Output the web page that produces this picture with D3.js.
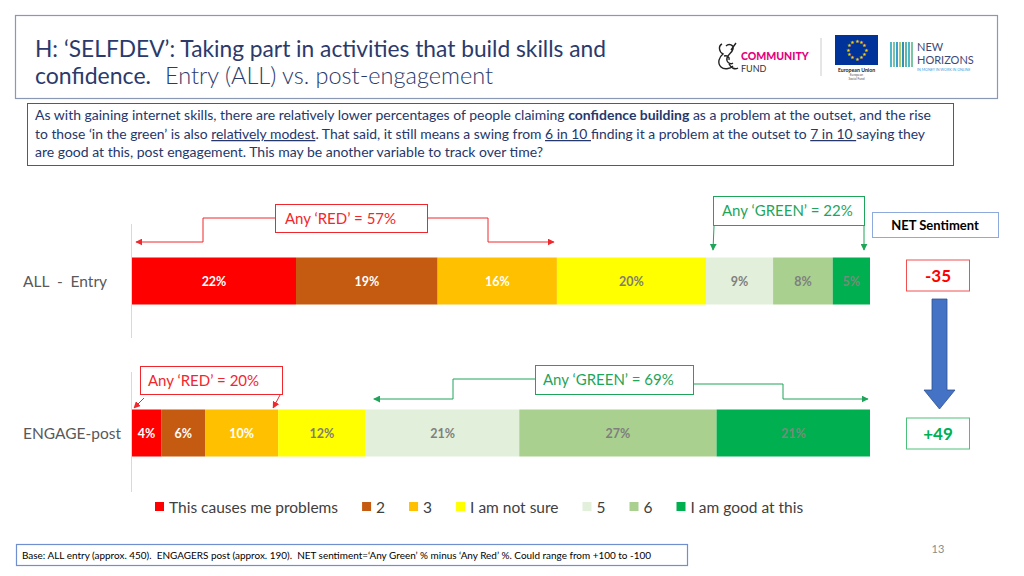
<!DOCTYPE html>
<html><head><meta charset="utf-8">
<script src="https://cdn.jsdelivr.net/npm/d3@7"></script>
<style>body{margin:0;background:#fff;} svg{display:block;font-family:Lato,"Open Sans",sans-serif;}</style>
</head><body><svg id="c" width="1024" height="576"></svg>
<script>
// ---------- DATA ----------
const rows = ["ALL  -  Entry", "ENGAGE-post"];
const seriesNames = ["This causes me problems","2","3","I am not sure","5","6","I am good at this"];
const seriesColors = ["#FF0000","#C55A11","#FFC000","#FFFF00","#E2EFDA","#A9D08E","#00B050"];
const labelColors = ["#FFFFFF","#FFFFFF","#FFFFFF","#7F7F6F","#7F7F7F","#7F7F7F","#6F8F7A"];
const entryValues = [22,19,16,20,9,8,5];
const postValues  = [4,6,10,12,21,27,21];
const anyRed   = [57,20];
const anyGreen = [22,69];
const netSentiment = [-35,49];
const pageNumber = "13";

// ---------- SETUP ----------
const svg = d3.select("#c");
const fitText = (sel, w) => sel.attr("textLength", w).attr("lengthAdjust", "spacingAndGlyphs");
const navy = "#2B3A6B";

const defs = svg.append("defs");
function marker(id, color){
  defs.append("marker").attr("id", id).attr("viewBox","0 0 10 10").attr("refX",9).attr("refY",5)
    .attr("markerWidth",7).attr("markerHeight",7).attr("markerUnits","userSpaceOnUse").attr("orient","auto")
    .append("path").attr("d","M0,0 L10,5 L0,10 z").attr("fill",color);
}
marker("mr","#F0282D"); marker("mg","#1FA55A");

// ---------- TITLE BOX ----------
svg.append("rect").attr("x",15.5).attr("y",15.5).attr("width",982).attr("height",83)
  .attr("fill","none").attr("stroke","#8A97B5").attr("stroke-width",1.2);
fitText(svg.append("text").attr("x",35).attr("y",57).attr("font-size",24).attr("fill",navy)
  .text("H: \u2018SELFDEV\u2019: Taking part in activities that build skills and"), 571);
fitText(svg.append("text").attr("x",35).attr("y",84).attr("font-size",24).attr("fill",navy)
  .text("confidence."), 116);
fitText(svg.append("text").attr("x",165).attr("y",84).attr("font-size",24).attr("font-weight",300).attr("fill",navy)
  .text("Entry (ALL) vs. post-engagement"), 328);

// logos
const lg = svg.append("g");
lg.append("path").attr("d","M722,44 c-4,2 -3,8 1,10 c-4,3 -6,9 -2,13 c3,3 9,2 12,-1 M726,46 c3,-3 8,-1 7,3 c-1,4 -5,5 -6,9 c-1,4 3,7 6,5 M724,56 c3,-1 6,1 5,4 M731,50 l5,-7 M729,64 c2,4 6,6 9,4")
  .attr("fill","none").attr("stroke","#222").attr("stroke-width",1.4);
lg.append("text").attr("x",741).attr("y",60).attr("font-size",10.5).attr("font-weight",900).attr("fill","#E5007E").text("COMMUNITY");
lg.append("text").attr("x",741).attr("y",71.5).attr("font-size",9).attr("fill","#333").text("FUND");
lg.append("line").attr("x1",821).attr("x2",821).attr("y1",38).attr("y2",76).attr("stroke","#ccc");
lg.append("rect").attr("x",835).attr("y",35).attr("width",43).attr("height",30).attr("fill","#003399");
d3.range(12).forEach(i=>{
  const a = i*Math.PI/6;
  lg.append("text").attr("x",856.5+9*Math.cos(a)).attr("y",50+9*Math.sin(a)+1.5).attr("font-size",5).attr("text-anchor","middle").attr("fill","#FFCC00").text("\u2605");
});
lg.append("text").attr("x",856.5).attr("y",71.5).attr("font-size",5.2).attr("font-weight",700).attr("text-anchor","middle").attr("fill","#222").text("European Union");
lg.append("text").attr("x",856.5).attr("y",76).attr("font-size",3.2).attr("text-anchor","middle").attr("fill","#555").text("European");
lg.append("text").attr("x",856.5).attr("y",80).attr("font-size",3.2).attr("text-anchor","middle").attr("fill","#555").text("Social Fund");
const stripeCols = ["#4FB8C9","#7CC5A0","#3B9FD0","#A6D16E","#2E8FB8","#62B9A8"];
d3.range(8).forEach(i=>{
  lg.append("rect").attr("x",890+i*3).attr("y",42).attr("width",2).attr("height",25).attr("fill",stripeCols[i%6]);
});
lg.append("text").attr("x",917).attr("y",50.5).attr("font-size",11).attr("fill","#3D4A78").text("NEW");
lg.append("text").attr("x",917).attr("y",64).attr("font-size",11).attr("fill","#3D4A78").text("HORIZONS");
lg.append("text").attr("x",917).attr("y",71).attr("font-size",3.6).attr("fill","#3AA0D8").text("IN MONEY IN WORK IN ONLINE");

// ---------- TEXT BOX ----------
svg.append("rect").attr("x",27.5).attr("y",103.5).attr("width",926).attr("height",62)
  .attr("fill","none").attr("stroke","#4A5B7F").attr("stroke-width",1);
const paraColor = "#26376B";
function para(y, parts, w){
  const t = svg.append("text").attr("x",35).attr("y",y).attr("font-size",12.5).attr("fill",paraColor);
  parts.forEach(p=>{
    const s = t.append("tspan").text(p.t);
    if(p.b) s.attr("font-weight",700);
    if(p.u) s.attr("text-decoration","underline");
  });
  fitText(t, w);
}
para(120,[{t:"As with gaining internet skills, there are relatively lower percentages of people claiming "},{t:"confidence building",b:1},{t:" as a problem at the outset, and the rise"}],896);
para(139,[{t:"to those \u2018in the green\u2019 is also "},{t:"relatively modest",u:1},{t:". That said, it still means a swing from "},{t:"6 in 10 ",u:1},{t:"finding it a problem at the outset to "},{t:"7 in 10 ",u:1},{t:"saying they"}],890);
para(157,[{t:"are good at this, post engagement. This may be another variable to track over time?"}],508);

// ---------- CHART ----------
const rowValues = [entryValues, postValues];
const data = rows.map((r,i)=>{ const o={row:r}; rowValues[i].forEach((v,j)=>o[j]=v); return o; });
const keys = d3.range(seriesNames.length);
const stacked = d3.stack().keys(keys).offset(d3.stackOffsetExpand)(data);

const x = d3.scaleLinear().domain([0,1]).range([132,870]);
const y = d3.scalePoint().domain(rows).range([281,433]);
const barH = 47;

svg.append("line").attr("x1",131.5).attr("x2",131.5).attr("y1",224).attr("y2",338).attr("stroke","#D9D9D9");
svg.append("line").attr("x1",131.5).attr("x2",131.5).attr("y1",372).attr("y2",492).attr("stroke","#D9D9D9");

const layers = svg.append("g").selectAll("g").data(stacked).join("g").attr("fill",(d,i)=>seriesColors[i]);
layers.selectAll("rect").data(d=>d.map(p=>({p,row:p.data.row}))).join("rect")
  .attr("x",d=>x(d.p[0])).attr("width",d=>x(d.p[1])-x(d.p[0]))
  .attr("y",d=>y(d.row)-barH/2).attr("height",barH);

stacked.forEach((layer,si)=>{
  layer.forEach((p,ri)=>{
    svg.append("text").attr("x",(x(p[0])+x(p[1]))/2).attr("y",y(p.data.row)+4.5)
      .attr("text-anchor","middle").attr("font-size",12.5).attr("font-weight",700)
      .attr("fill",labelColors[si]).text(rowValues[ri][si]+"%");
  });
});

rows.forEach(r=>{
  svg.append("text").attr("x",23).attr("y",y(r)+6).attr("font-size",15.5).attr("fill","#595959")
    .style("white-space","pre").text(r);
});

// ---------- ANNOTATIONS ----------
const redC = "#F0282D", greenC = "#1FA55A";
const redEnd = stacked[2].map(p=>p[1]);
const greenStart = stacked[4].map(p=>p[0]);
function box(x0,y0,w,h,col,txt,tx,ty){
  svg.append("rect").attr("x",x0+.5).attr("y",y0+.5).attr("width",w).attr("height",h).attr("fill","#fff").attr("stroke",col).attr("stroke-width",1);
  svg.append("text").attr("x",tx).attr("y",ty).attr("font-size",15).attr("fill",col).text(txt);
}
function path(pts,col,m){
  svg.append("path").attr("d",d3.line()(pts)).attr("fill","none").attr("stroke",col).attr("stroke-width",1)
    .attr("marker-end",m?`url(#${m})`:null);
}
path([[275,218],[203,218],[203,242],[x(0)+4,242]],redC,"mr");
path([[428,218],[488,218],[488,242],[x(redEnd[0])-3,242]],redC,"mr");
box(275,204,152,28,redC,`Any \u2018RED\u2019 = ${anyRed[0]}%`,285,224);
path([[714,226],[x(greenStart[0])+7,250]],greenC,"mg");
path([[864,226],[x(1)-6,250]],greenC,"mg");
box(713,196,151,29,greenC,`Any \u2018GREEN\u2019 = ${anyGreen[0]}%`,722,216);
path([[144,398],[x(0)+2,408]],redC,"mr");
path([[280,395],[x(redEnd[1])-5,408]],redC,"mr");
box(140,366,142,28,redC,`Any \u2018RED\u2019 = ${anyRed[1]}%`,148,386);
path([[535,379],[453,379],[453,399],[x(greenStart[1])+8,399]],greenC,"mg");
path([[694,384],[783,384],[783,399],[x(1)-2,399]],greenC,"mg");
box(535,365,158,29,greenC,`Any \u2018GREEN\u2019 = ${anyGreen[1]}%`,543,385);

// ---------- NET SENTIMENT ----------
svg.append("rect").attr("x",872.5).attr("y",212.5).attr("width",126).attr("height",25).attr("fill","#fff").attr("stroke","#8EA9DB");
svg.append("text").attr("x",935).attr("y",229.5).attr("text-anchor","middle").attr("font-size",13).attr("font-weight",700).attr("fill","#000").text("NET Sentiment");
const netCol = v => v<0 ? "#FF0000" : "#00B050";
const netBorder = v => v<0 ? "#F05050" : "#4CC07A";
rows.forEach((r,i)=>{
  const v = netSentiment[i];
  const cy = i===0 ? 275.5 : 433.5;
  svg.append("rect").attr("x",906.5).attr("y",cy-15.5).attr("width",63).attr("height",31).attr("fill","#fff").attr("stroke",netBorder(v));
  svg.append("text").attr("x",938).attr("y",cy+6).attr("text-anchor","middle").attr("font-size",17).attr("font-weight",700)
    .attr("fill",netCol(v)).text((v>0?"+":"")+v);
});
svg.append("path").attr("d","M932,299 L947,299 L947,390 L955,390 L939.5,409 L924,390 L932,390 Z")
  .attr("fill","#4472C4").attr("stroke","#2F528F").attr("stroke-width",0.8);

// ---------- LEGEND ----------
const leg = svg.append("g");
let lx = 155;
seriesNames.forEach((n,i)=>{
  leg.append("rect").attr("x",lx).attr("y",502).attr("width",9).attr("height",9).attr("fill",seriesColors[i]);
  const t = leg.append("text").attr("x",lx+14).attr("y",512.5).attr("font-size",15.5).attr("fill","#404040").text(n);
  lx += 14 + t.node().getComputedTextLength() + 24;
});

// ---------- FOOTER ----------
svg.append("rect").attr("x",16.5).attr("y",544.5).attr("width",671).attr("height",21).attr("fill","#fff").attr("stroke","#6F8FCF").attr("stroke-width",1.2);
fitText(svg.append("text").attr("x",22).attr("y",558.5).attr("font-size",9.5).attr("fill","#000").style("white-space","pre")
  .text("Base: ALL entry (approx. 450).  ENGAGERS post (approx. 190).  NET sentiment=\u2018Any Green\u2019 % minus \u2018Any Red\u2019 %. Could range from +100 to -100"), 629);
svg.append("text").attr("x",938).attr("y",553).attr("text-anchor","middle").attr("font-size",11).attr("fill","#8C8C8C").text(pageNumber);
</script>
</body></html>
